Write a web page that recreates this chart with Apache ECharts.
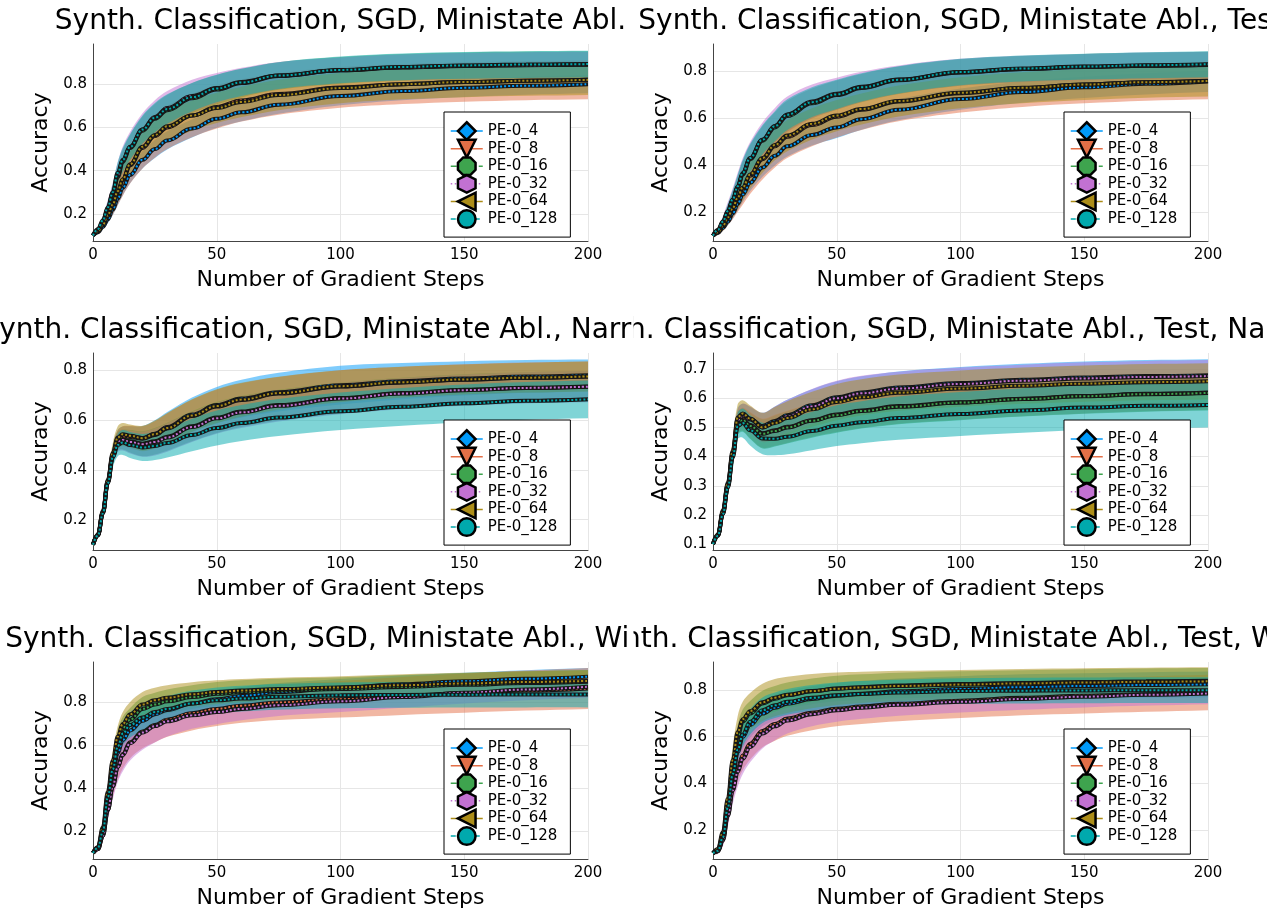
<!DOCTYPE html>
<html>
<head>
<meta charset="utf-8">
<script src="https://cdn.jsdelivr.net/npm/echarts@6/dist/echarts.min.js"></script>
<style>
  html, body { margin: 0; padding: 0; background: #fff; }
  #main { width: 1267px; height: 911px; }
</style>
</head>
<body>
<div id="main"></div>
<script>
  var steps = [0, 2, 4, 6, 8, 10, 12, 15, 20, 25, 30, 40, 50, 60, 75, 100, 125, 150, 175, 200];
  var names = ['PE-0_4', 'PE-0_8', 'PE-0_16', 'PE-0_32', 'PE-0_64', 'PE-0_128'];
  var colors = ['#009AFA', '#E36F47', '#3EA44E', '#C271D2', '#AC8D18', '#00A9AD'];

  var base = 'Synth. Classification, SGD, Ministate Abl.';
  var titles = [base, base + ', Test', base + ', Narrower', base + ', Test, Narrower', base + ', Wider', base + ', Test, Wider'];

  // y ranges and ticks per panel
  var yMins = [0.0744, 0.0776, 0.0785, 0.080, 0.072, 0.075];
  var yMaxs = [0.986, 0.914, 0.869, 0.755, 0.988, 0.921];
  var ticksA = [0.2, 0.4, 0.6, 0.8];
  var ticksB = [0.1, 0.2, 0.3, 0.4, 0.5, 0.6, 0.7];

  // means (rows: PE-0_4, 8, 16, 32, 64, 128)
  var p1Mean = [
    [0.10,0.115,0.14,0.175,0.22,0.27,0.32,0.38,0.45,0.50,0.54,0.595,0.64,0.67,0.705,0.745,0.768,0.783,0.793,0.80],
    [0.10,0.12,0.15,0.19,0.24,0.30,0.355,0.425,0.505,0.56,0.60,0.655,0.695,0.725,0.755,0.785,0.80,0.81,0.816,0.82],
    [0.10,0.12,0.16,0.22,0.29,0.37,0.44,0.505,0.585,0.64,0.68,0.735,0.775,0.805,0.838,0.864,0.878,0.885,0.889,0.891],
    [0.10,0.125,0.165,0.225,0.295,0.38,0.445,0.51,0.59,0.648,0.69,0.745,0.782,0.81,0.84,0.864,0.877,0.884,0.888,0.89],
    [0.10,0.12,0.15,0.195,0.245,0.305,0.36,0.43,0.51,0.565,0.605,0.655,0.69,0.718,0.75,0.782,0.80,0.81,0.816,0.82],
    [0.10,0.13,0.17,0.23,0.30,0.39,0.45,0.51,0.59,0.645,0.685,0.74,0.78,0.808,0.84,0.866,0.88,0.887,0.891,0.893]
  ];
  var p1Std = [
    [0.004,0.008,0.012,0.018,0.025,0.03,0.035,0.038,0.04,0.042,0.042,0.042,0.042,0.042,0.042,0.042,0.042,0.042,0.042,0.042],
    [0.004,0.01,0.02,0.03,0.045,0.06,0.072,0.085,0.095,0.1,0.1,0.1,0.1,0.098,0.096,0.094,0.092,0.091,0.09,0.09],
    [0.004,0.01,0.02,0.03,0.04,0.05,0.055,0.06,0.065,0.068,0.07,0.07,0.068,0.066,0.064,0.062,0.062,0.062,0.062,0.062],
    [0.004,0.012,0.025,0.04,0.05,0.06,0.066,0.07,0.075,0.078,0.078,0.075,0.07,0.066,0.063,0.06,0.06,0.06,0.06,0.06],
    [0.004,0.01,0.02,0.03,0.04,0.05,0.055,0.06,0.065,0.068,0.07,0.07,0.07,0.07,0.07,0.07,0.07,0.07,0.07,0.07],
    [0.004,0.01,0.02,0.03,0.04,0.05,0.055,0.06,0.065,0.068,0.068,0.066,0.064,0.063,0.062,0.062,0.062,0.062,0.062,0.062]
  ];

  var p2Mean = [
    [0.10,0.112,0.133,0.16,0.195,0.235,0.275,0.325,0.39,0.44,0.48,0.528,0.56,0.595,0.635,0.68,0.71,0.73,0.745,0.755],
    [0.10,0.115,0.14,0.175,0.215,0.26,0.30,0.355,0.425,0.48,0.52,0.57,0.605,0.635,0.67,0.705,0.727,0.742,0.752,0.758],
    [0.10,0.12,0.155,0.20,0.25,0.305,0.36,0.425,0.503,0.56,0.608,0.662,0.697,0.727,0.76,0.793,0.808,0.817,0.822,0.826],
    [0.10,0.122,0.158,0.203,0.253,0.308,0.363,0.428,0.507,0.566,0.615,0.67,0.703,0.732,0.763,0.794,0.808,0.816,0.822,0.825],
    [0.10,0.115,0.142,0.178,0.218,0.263,0.305,0.36,0.43,0.485,0.525,0.575,0.61,0.638,0.672,0.707,0.728,0.742,0.752,0.757],
    [0.10,0.125,0.16,0.205,0.255,0.31,0.366,0.43,0.508,0.565,0.614,0.667,0.70,0.73,0.762,0.795,0.81,0.818,0.824,0.828]
  ];
  var p2Std = [
    [0.004,0.008,0.012,0.016,0.022,0.028,0.032,0.036,0.04,0.042,0.044,0.045,0.045,0.045,0.045,0.045,0.045,0.045,0.045,0.045],
    [0.004,0.01,0.02,0.03,0.045,0.058,0.068,0.078,0.086,0.09,0.09,0.09,0.088,0.086,0.084,0.082,0.08,0.08,0.079,0.079],
    [0.004,0.01,0.02,0.03,0.04,0.05,0.055,0.06,0.062,0.064,0.065,0.063,0.062,0.06,0.058,0.056,0.055,0.055,0.055,0.055],
    [0.004,0.012,0.025,0.04,0.05,0.06,0.066,0.07,0.074,0.076,0.076,0.072,0.068,0.064,0.06,0.057,0.056,0.056,0.056,0.056],
    [0.004,0.01,0.02,0.03,0.04,0.05,0.055,0.06,0.063,0.065,0.066,0.066,0.066,0.066,0.066,0.066,0.066,0.066,0.066,0.066],
    [0.004,0.01,0.02,0.03,0.04,0.05,0.055,0.06,0.062,0.064,0.065,0.063,0.062,0.06,0.058,0.056,0.055,0.055,0.055,0.055]
  ];

  var p3Mean = [
    [0.10,0.14,0.23,0.355,0.46,0.525,0.538,0.535,0.528,0.545,0.572,0.622,0.66,0.686,0.712,0.74,0.756,0.767,0.775,0.78],
    [0.10,0.14,0.23,0.355,0.46,0.52,0.535,0.532,0.525,0.54,0.566,0.616,0.654,0.68,0.706,0.735,0.751,0.762,0.77,0.775],
    [0.10,0.138,0.228,0.35,0.455,0.515,0.522,0.515,0.505,0.515,0.533,0.575,0.61,0.634,0.66,0.688,0.708,0.722,0.73,0.735],
    [0.10,0.138,0.228,0.35,0.455,0.512,0.52,0.512,0.503,0.512,0.53,0.572,0.607,0.631,0.657,0.686,0.706,0.72,0.729,0.734],
    [0.10,0.142,0.235,0.36,0.468,0.53,0.543,0.537,0.527,0.543,0.568,0.618,0.656,0.682,0.708,0.736,0.752,0.763,0.77,0.775],
    [0.10,0.137,0.225,0.347,0.45,0.50,0.51,0.50,0.49,0.496,0.508,0.54,0.568,0.588,0.61,0.635,0.653,0.667,0.677,0.683]
  ];
  var p3Std = [
    [0.004,0.01,0.02,0.03,0.035,0.035,0.036,0.04,0.048,0.054,0.06,0.068,0.073,0.076,0.078,0.078,0.073,0.069,0.066,0.063],
    [0.004,0.01,0.02,0.03,0.035,0.038,0.04,0.045,0.05,0.055,0.06,0.065,0.068,0.068,0.067,0.065,0.063,0.062,0.061,0.06],
    [0.004,0.01,0.02,0.03,0.035,0.038,0.04,0.045,0.05,0.053,0.056,0.06,0.062,0.062,0.062,0.062,0.062,0.062,0.062,0.062],
    [0.004,0.01,0.02,0.03,0.035,0.04,0.042,0.046,0.05,0.054,0.057,0.06,0.062,0.063,0.063,0.063,0.063,0.063,0.063,0.063],
    [0.004,0.01,0.02,0.03,0.04,0.045,0.045,0.045,0.05,0.055,0.06,0.065,0.068,0.068,0.066,0.064,0.062,0.06,0.06,0.06],
    [0.004,0.01,0.02,0.03,0.04,0.045,0.05,0.052,0.054,0.056,0.058,0.065,0.07,0.072,0.074,0.075,0.076,0.076,0.076,0.076]
  ];

  var p4Mean = [
    [0.10,0.132,0.21,0.305,0.415,0.53,0.546,0.53,0.505,0.522,0.542,0.576,0.603,0.62,0.637,0.652,0.663,0.671,0.676,0.679],
    [0.10,0.13,0.206,0.298,0.405,0.515,0.528,0.508,0.48,0.49,0.502,0.525,0.544,0.558,0.573,0.586,0.598,0.608,0.615,0.62],
    [0.10,0.13,0.205,0.297,0.403,0.512,0.525,0.505,0.478,0.488,0.50,0.523,0.542,0.556,0.571,0.585,0.597,0.607,0.614,0.618],
    [0.10,0.132,0.21,0.305,0.413,0.525,0.542,0.527,0.50,0.518,0.538,0.572,0.60,0.617,0.633,0.649,0.66,0.668,0.673,0.676],
    [0.10,0.134,0.215,0.31,0.42,0.535,0.548,0.53,0.50,0.515,0.532,0.562,0.587,0.603,0.619,0.633,0.643,0.65,0.655,0.658],
    [0.10,0.129,0.203,0.294,0.397,0.505,0.515,0.49,0.462,0.461,0.468,0.488,0.506,0.518,0.532,0.546,0.558,0.568,0.574,0.577]
  ];
  var p4Std = [
    [0.004,0.01,0.02,0.03,0.035,0.035,0.035,0.04,0.045,0.05,0.053,0.055,0.055,0.055,0.055,0.055,0.055,0.055,0.055,0.055],
    [0.004,0.01,0.02,0.03,0.035,0.038,0.04,0.045,0.05,0.053,0.055,0.058,0.06,0.06,0.06,0.06,0.06,0.06,0.06,0.06],
    [0.004,0.01,0.02,0.03,0.035,0.038,0.04,0.045,0.05,0.053,0.055,0.058,0.06,0.06,0.06,0.06,0.06,0.06,0.06,0.06],
    [0.004,0.01,0.02,0.03,0.035,0.038,0.04,0.045,0.05,0.054,0.057,0.06,0.06,0.06,0.058,0.056,0.055,0.055,0.055,0.055],
    [0.004,0.01,0.02,0.03,0.04,0.045,0.045,0.045,0.05,0.055,0.058,0.06,0.062,0.062,0.062,0.062,0.062,0.062,0.062,0.062],
    [0.004,0.01,0.02,0.03,0.04,0.045,0.05,0.052,0.054,0.056,0.06,0.066,0.07,0.072,0.074,0.075,0.076,0.077,0.077,0.077]
  ];

  var p5Mean = [
    [0.10,0.12,0.19,0.33,0.46,0.565,0.625,0.67,0.715,0.745,0.765,0.795,0.815,0.83,0.848,0.868,0.884,0.898,0.91,0.92],
    [0.10,0.118,0.18,0.30,0.41,0.50,0.56,0.615,0.665,0.695,0.72,0.75,0.77,0.785,0.80,0.815,0.83,0.843,0.855,0.865],
    [0.10,0.125,0.21,0.37,0.51,0.62,0.68,0.72,0.77,0.79,0.805,0.825,0.84,0.848,0.855,0.862,0.872,0.882,0.89,0.896],
    [0.10,0.118,0.18,0.30,0.41,0.50,0.555,0.61,0.66,0.69,0.712,0.74,0.755,0.77,0.787,0.805,0.825,0.845,0.86,0.873],
    [0.10,0.128,0.22,0.385,0.53,0.64,0.70,0.745,0.79,0.81,0.822,0.838,0.848,0.855,0.862,0.87,0.88,0.888,0.895,0.90],
    [0.10,0.125,0.20,0.36,0.49,0.595,0.655,0.695,0.73,0.755,0.77,0.795,0.81,0.818,0.826,0.833,0.835,0.836,0.837,0.837]
  ];
  var p5Std = [
    [0.004,0.01,0.02,0.035,0.045,0.05,0.05,0.05,0.048,0.046,0.045,0.044,0.043,0.042,0.042,0.041,0.041,0.04,0.04,0.04],
    [0.004,0.01,0.02,0.035,0.05,0.06,0.068,0.074,0.078,0.08,0.08,0.08,0.08,0.08,0.082,0.085,0.088,0.091,0.093,0.095],
    [0.004,0.01,0.02,0.035,0.045,0.05,0.052,0.054,0.055,0.055,0.055,0.055,0.055,0.055,0.055,0.055,0.055,0.055,0.055,0.055],
    [0.004,0.01,0.025,0.045,0.06,0.07,0.076,0.08,0.08,0.076,0.07,0.062,0.056,0.053,0.05,0.05,0.05,0.05,0.05,0.05],
    [0.004,0.01,0.02,0.035,0.045,0.05,0.054,0.057,0.058,0.058,0.058,0.056,0.055,0.054,0.053,0.052,0.051,0.05,0.05,0.05],
    [0.004,0.01,0.02,0.035,0.045,0.05,0.055,0.058,0.06,0.06,0.06,0.06,0.06,0.06,0.06,0.06,0.06,0.06,0.06,0.06]
  ];

  var p6Mean = [
    [0.10,0.11,0.165,0.29,0.43,0.535,0.60,0.65,0.70,0.725,0.742,0.762,0.776,0.785,0.795,0.805,0.813,0.818,0.822,0.825],
    [0.10,0.108,0.158,0.265,0.38,0.465,0.52,0.57,0.625,0.655,0.678,0.703,0.72,0.73,0.742,0.755,0.767,0.776,0.783,0.79],
    [0.10,0.115,0.18,0.32,0.48,0.60,0.665,0.70,0.743,0.763,0.778,0.795,0.807,0.813,0.82,0.826,0.831,0.835,0.838,0.84],
    [0.10,0.108,0.155,0.26,0.37,0.45,0.505,0.556,0.614,0.645,0.67,0.697,0.714,0.725,0.737,0.75,0.762,0.772,0.78,0.786],
    [0.10,0.118,0.19,0.335,0.50,0.62,0.675,0.71,0.748,0.768,0.78,0.796,0.806,0.812,0.818,0.824,0.829,0.833,0.836,0.838],
    [0.10,0.11,0.168,0.297,0.44,0.545,0.61,0.664,0.714,0.735,0.75,0.767,0.778,0.784,0.79,0.796,0.798,0.799,0.80,0.80]
  ];
  var p6Std = [
    [0.004,0.01,0.02,0.035,0.045,0.05,0.052,0.054,0.055,0.055,0.055,0.055,0.055,0.055,0.055,0.055,0.055,0.055,0.055,0.055],
    [0.004,0.01,0.02,0.035,0.05,0.058,0.064,0.068,0.07,0.072,0.074,0.075,0.075,0.075,0.075,0.075,0.075,0.076,0.076,0.076],
    [0.004,0.01,0.02,0.035,0.045,0.05,0.052,0.054,0.055,0.055,0.055,0.055,0.055,0.055,0.055,0.055,0.055,0.055,0.055,0.055],
    [0.004,0.01,0.025,0.045,0.058,0.064,0.066,0.066,0.064,0.06,0.056,0.052,0.05,0.048,0.047,0.046,0.046,0.046,0.046,0.046],
    [0.004,0.01,0.02,0.04,0.06,0.07,0.075,0.078,0.08,0.08,0.078,0.074,0.07,0.067,0.065,0.063,0.062,0.061,0.06,0.06],
    [0.004,0.01,0.02,0.035,0.045,0.05,0.052,0.054,0.055,0.055,0.055,0.055,0.055,0.055,0.055,0.055,0.055,0.055,0.055,0.055]
  ];

  var means = [p1Mean, p2Mean, p3Mean, p4Mean, p5Mean, p6Mean];
  var stds = [p1Std, p2Std, p3Std, p4Std, p5Std, p6Std];

  // marker shapes and legend dash styles
  var symbols = [
    'diamond',
    'path://M0,0L10,0L5,9Z',
    'path://M3,0L7,0L10,3L10,7L7,10L3,10L0,7L0,3Z',
    'path://M5,0L9.33,2.5L9.33,7.5L5,10L0.67,7.5L0.67,2.5Z',
    'path://M0,5L9,0L9,10Z',
    'circle'
  ];
  var dashes = ['solid', 'solid', [6, 3, 2, 3], [1.5, 2.5], 'solid', [5, 3]];

  var plotLeft = [93, 713];
  var plotTop = [44, 353, 662];
  var plotW = 495, plotH = 197;
  var legTop = [112, 420, 729];
  var legLeft = [444, 1064];
  var titleY = [22, 331, 640];
  var splitX = 633.5;

  // ribbon between mean-std and mean+std, drawn once as a smoothed polygon;
  // the end points are doubled so the corners stay sharp
  function bandRenderer(lo, hi, color) {
    return function (params, api) {
      if (params.dataIndex !== 0) return null;
      var n = steps.length, pts = [], k;
      pts.push(api.coord([steps[0], hi[0]]));
      for (k = 0; k < n; k++) pts.push(api.coord([steps[k], hi[k]]));
      pts.push(api.coord([steps[n - 1], hi[n - 1]]));
      pts.push(api.coord([steps[n - 1], lo[n - 1]]));
      for (k = n - 1; k >= 0; k--) pts.push(api.coord([steps[k], lo[k]]));
      pts.push(api.coord([steps[0], lo[0]]));
      return {
        type: 'polygon',
        shape: { points: pts, smooth: 0.35 },
        style: { fill: color, opacity: 0.5 }
      };
    };
  }

  var chart = echarts.init(document.getElementById('main'));

  var grids = [], xAxes = [], yAxes = [], legends = [], series = [], graphics = [];

  for (var p = 0; p < 6; p++) {
    var row = Math.floor(p / 2), col = p % 2;
    var ticks = p === 3 ? ticksB : ticksA;
    grids.push({ left: plotLeft[col], top: plotTop[row], width: plotW, height: plotH });
    xAxes.push({
      gridIndex: p, type: 'value', min: 0, max: 200, interval: 50,
      name: 'Number of Gradient Steps', nameLocation: 'middle', nameGap: 28,
      nameTextStyle: { fontSize: 22, color: '#000' },
      axisLine: { show: true, onZero: false, lineStyle: { color: '#444', width: 1 } },
      axisTick: { show: false },
      axisLabel: { fontSize: 15, color: '#000', margin: 7 },
      splitLine: { show: true, lineStyle: { color: '#e6e6e6', width: 1 } }
    });
    yAxes.push({
      gridIndex: p, type: 'value', min: yMins[p], max: yMaxs[p],
      name: 'Accuracy', nameLocation: 'middle', nameGap: 41,
      nameTextStyle: { fontSize: 22, color: '#000' },
      axisLine: { show: true, onZero: false, lineStyle: { color: '#444', width: 1 } },
      axisTick: { show: false, customValues: ticks },
      axisLabel: { fontSize: 15, color: '#000', margin: 6, customValues: ticks },
      splitLine: { show: true, lineStyle: { color: '#e6e6e6', width: 1 } }
    });
    legends.push({
      left: legLeft[col], top: legTop[row], orient: 'vertical',
      selectedMode: false,
      itemWidth: 32, itemHeight: 22, itemGap: -2.5,
      padding: [9, 13, 8, 6],
      borderColor: '#000', borderWidth: 1, backgroundColor: '#fff',
      textStyle: { fontSize: 15, color: '#000' },
      itemStyle: { borderColor: '#000', borderWidth: 2.5 },
      data: names.map(function (n, s) {
        return { name: n, lineStyle: { type: dashes[s], width: 1.5, opacity: 1 } };
      })
    });

    for (var s = 0; s < 6; s++) {
      var m = means[p][s], sd = stds[p][s];
      var lo = m.map(function (v, k) { return v - sd[k]; });
      var hi = m.map(function (v, k) { return v + sd[k]; });
      var mid = steps.map(function (x, k) { return [x, m[k]]; });
      series.push({
        type: 'custom', name: names[s] + ' band', xAxisIndex: p, yAxisIndex: p,
        silent: true, clip: true,
        data: steps.map(function (x, k) { return [x, lo[k], hi[k]]; }),
        encode: { x: 0, y: [1, 2] },
        renderItem: bandRenderer(lo, hi, colors[s])
      });
      series.push({
        type: 'line', name: names[s] + ' edge', xAxisIndex: p, yAxisIndex: p,
        data: mid, symbol: 'none', silent: true,
        smooth: 0.4, smoothMonotone: 'x',
        lineStyle: { color: '#161616', width: 4 }
      });
      series.push({
        type: 'line', name: names[s], xAxisIndex: p, yAxisIndex: p,
        data: mid, symbol: symbols[s], showSymbol: false, symbolSize: 6, silent: true,
        smooth: 0.4, smoothMonotone: 'x',
        itemStyle: { color: colors[s] },
        lineStyle: { color: colors[s], width: 2, type: [2, 2] }
      });
    }
  }

  // subplot titles are clipped to their own half of the figure
  var measure = document.createElement('canvas').getContext('2d');
  measure.font = '28px "DejaVu Sans"';
  var titleFont = { fontSize: 28, fontFamily: 'DejaVu Sans', fill: '#000', align: 'left', verticalAlign: 'middle' };

  for (var r = 0; r < 3; r++) {
    // right title: drop characters lying wholly left of the split, mask the partial one
    var rt = titles[2 * r + 1];
    var rStart = 960.5 - measure.measureText(rt).width / 2;
    var ri = 0;
    while (ri < rt.length && rStart + measure.measureText(rt.slice(0, ri + 1)).width <= splitX) ri++;
    graphics.push({
      type: 'text', x: rStart + measure.measureText(rt.slice(0, ri)).width, y: titleY[r], z: 100,
      style: Object.assign({ text: rt.slice(ri) }, titleFont)
    });
    graphics.push({
      type: 'rect', z: 101,
      shape: { x: 0, y: titleY[r] - 22, width: splitX, height: 43 },
      style: { fill: '#fff' }
    });
    // left title: keep the characters that end before the split
    var lt = titles[2 * r];
    var lStart = 340.5 - measure.measureText(lt).width / 2;
    var li = lt.length;
    while (li > 0 && lStart + measure.measureText(lt.slice(0, li)).width > splitX + 4) li--;
    graphics.push({
      type: 'text', x: lStart, y: titleY[r], z: 102,
      style: Object.assign({ text: lt.slice(0, li) }, titleFont)
    });
  }

  chart.setOption({
    animation: false,
    backgroundColor: '#fff',
    textStyle: { fontFamily: 'DejaVu Sans' },
    grid: grids,
    xAxis: xAxes,
    yAxis: yAxes,
    legend: legends,
    series: series,
    graphic: graphics
  });
</script>
</body>
</html>
